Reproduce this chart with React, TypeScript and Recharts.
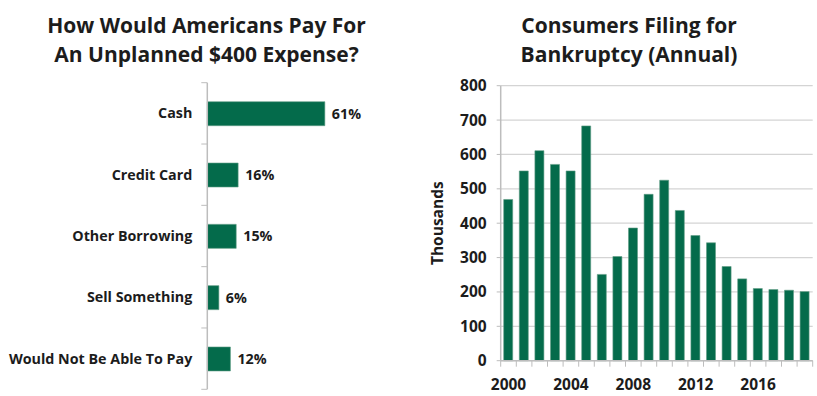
import React from 'react';
import { BarChart, Bar, XAxis, YAxis, CartesianGrid, LabelList, Label } from 'recharts';

const payCategories = ['Cash', 'Credit Card', 'Other Borrowing', 'Sell Something', 'Would Not Be Able To Pay'];
const payValues = [61, 16, 15, 6, 12];

const years = ['2000', '2001', '2002', '2003', '2004', '2005', '2006', '2007', '2008', '2009', '2010', '2011', '2012', '2013', '2014', '2015', '2016', '2017', '2018', '2019'];
const filings = [469, 552, 611, 571, 552, 683, 251, 303, 386, 484, 525, 437, 364, 343, 274, 238, 210, 207, 205, 201];
const yTicks = [0, 100, 200, 300, 400, 500, 600, 700, 800];
const xLabelYears = ['2000', '2004', '2008', '2012', '2016'];

const payData = payCategories.map((name, i) => ({ name, value: payValues[i] }));
const fileData = years.map((year, i) => ({ year, value: filings[i] }));

const FONT = '"Open Sans", "DejaVu Sans", sans-serif';
const GREEN = '#046b4b';
const TEXT = '#1c1c1c';
const AXIS = '#bdbdbd';

const PayTick = (props: any) => {
  const { x, y, payload, index, visibleTicksCount, height } = props;
  const band = height && visibleTicksCount ? height / visibleTicksCount : 61.3;
  return (
    <g>
      <line x1={x - 6} x2={x} y1={y - band / 2} y2={y - band / 2} stroke={AXIS} strokeWidth={1} />
      {index === visibleTicksCount - 1 && (
        <line x1={x - 6} x2={x} y1={y + band / 2} y2={y + band / 2} stroke={AXIS} strokeWidth={1} />
      )}
      <text x={x - 15} y={y} dy="0.35em" textAnchor="end" fill={TEXT} fontFamily={FONT} fontWeight={700} fontSize={14.3}>
        {payload.value}
      </text>
    </g>
  );
};

const YearTick = (props: any) => {
  const { x, y, payload, index, visibleTicksCount, width } = props;
  const band = width && visibleTicksCount ? width / visibleTicksCount : 15.6;
  return (
    <g>
      <line x1={x - band / 2} x2={x - band / 2} y1={y} y2={y + 6} stroke={AXIS} strokeWidth={1} />
      {index === visibleTicksCount - 1 && (
        <line x1={x + band / 2} x2={x + band / 2} y1={y} y2={y + 6} stroke={AXIS} strokeWidth={1} />
      )}
      {xLabelYears.includes(payload.value) && (
        <text x={x} y={y + 29} textAnchor="middle" fill={TEXT} fontFamily={FONT} fontWeight={700} fontSize={15.5}>
          {payload.value}
        </text>
      )}
    </g>
  );
};

const titleStyle: React.CSSProperties = {
  position: 'absolute',
  fontFamily: FONT,
  fontWeight: 700,
  fontSize: 21,
  lineHeight: '29px',
  color: TEXT,
  textAlign: 'center',
  whiteSpace: 'nowrap',
};

export default function App() {
  return (
    <div style={{ position: 'absolute', left: 0, top: 0, width: 817, height: 396, background: '#fff', overflow: 'hidden' }}>
      <div style={{ ...titleStyle, left: 0, width: 413, top: 11 }}>
        How Would Americans Pay For
        <br />
        An Unplanned $400 Expense?
      </div>
      <div style={{ ...titleStyle, left: 430, width: 398, top: 11 }}>
        Consumers Filing for
        <br />
        Bankruptcy (Annual)
      </div>

      <div style={{ position: 'absolute', left: 0, top: 0 }}>
        <BarChart
          width={410}
          height={396}
          data={payData}
          layout="vertical"
          margin={{ top: 82.7, right: 10, bottom: 6.7, left: 0 }}
        >
          <XAxis type="number" domain={[0, 100]} hide />
          <YAxis
            type="category"
            dataKey="name"
            width={207.3}
            axisLine={{ stroke: AXIS, strokeWidth: 1.5 }}
            tickLine={false}
            tickSize={0}
            tickMargin={0}
            interval={0}
            tick={<PayTick />}
          />
          <Bar dataKey="value" fill={GREEN} stroke="#5f9c84" strokeWidth={0.6} barSize={24} isAnimationActive={false}>
            <LabelList
              dataKey="value"
              position="right"
              offset={7}
              formatter={(v: any) => `${v}%`}
              fill={TEXT}
              fontFamily={FONT}
              fontWeight={700}
              fontSize={14.3}
            />
          </Bar>
        </BarChart>
      </div>

      <div style={{ position: 'absolute', left: 410, top: 0 }}>
        <BarChart
          width={407}
          height={396}
          data={fileData}
          margin={{ top: 85.7, right: 4.3, bottom: 5.3, left: 0 }}
        >
          <CartesianGrid vertical={false} stroke="#d4d4d4" strokeWidth={1.2} />
          <XAxis
            dataKey="year"
            height={30}
            interval={0}
            tickLine={false}
            tickSize={0}
            tickMargin={0}
            axisLine={{ stroke: AXIS, strokeWidth: 1.5 }}
            tick={<YearTick />}
          />
          <YAxis
            type="number"
            domain={[0, 800]}
            ticks={yTicks}
            width={90.7}
            tickSize={4}
            tickMargin={10}
            axisLine={{ stroke: AXIS, strokeWidth: 1.5 }}
            tickLine={{ stroke: AXIS }}
            tick={{ fill: TEXT, fontFamily: FONT, fontWeight: 700, fontSize: 15.5 }}
          >
            <Label
              value="Thousands"
              content={(p: any) => {
                const vb = p.viewBox || { x: 0, y: 85.7, width: 90.7, height: 275 };
                const cx = vb.x + 28;
                const cy = vb.y + vb.height / 2;
                return (
                  <text
                    x={cx}
                    y={cy}
                    dy="0.35em"
                    transform={`rotate(-90 ${cx} ${cy})`}
                    textAnchor="middle"
                    fill={TEXT}
                    fontFamily={FONT}
                    fontWeight={700}
                    fontSize={15.5}
                  >
                    Thousands
                  </text>
                );
              }}
            />
          </YAxis>
          <Bar dataKey="value" fill={GREEN} stroke="#5f9c84" strokeWidth={0.6} barSize={9} isAnimationActive={false} />
        </BarChart>
      </div>
    </div>
  );
}
